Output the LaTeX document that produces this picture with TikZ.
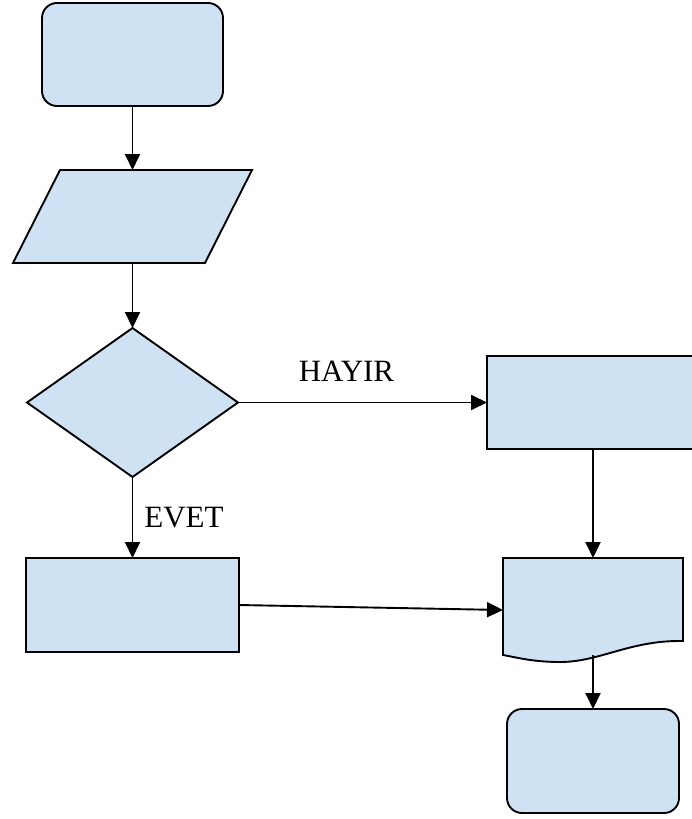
\documentclass[tikz,border=0pt]{standalone}
\usepackage{fontspec}
\setmainfont{Liberation Serif}
\usetikzlibrary{arrows.meta,shapes.geometric}
\definecolor{boxfill}{RGB}{207,226,243}
\begin{document}
\begin{tikzpicture}[x=1pt,y=-1pt,
  shapebox/.style={draw=black,fill=boxfill,line width=1.9pt,inner sep=0pt,outer sep=0pt},
  roundbox/.style={shapebox,rounded corners=15pt},
  ghost/.style={draw=none,inner sep=0pt,outer sep=0pt},
  flow/.style={line width=1.9pt,-{Triangle[length=16pt,width=15pt]}},
  lbl/.style={font=\fontsize{31}{31}\selectfont,inner sep=0pt,anchor=base}]
\clip (0,0) rectangle (692,819);
% nodes
\node[roundbox,minimum width=181pt,minimum height=103pt] (start) at (132.5,54.5) {};
\fill[boxfill,draw=black,line width=1.9pt,line join=miter] (60,170) -- (252,170) -- (205,263) -- (13,263) -- cycle;
\node[ghost,minimum width=192pt,minimum height=93pt] (input) at (132.5,216.5) {};
\node[shapebox,diamond,aspect=1.416,minimum width=211pt,minimum height=149pt] (dec) at (132.5,402.5) {};
\node[shapebox,minimum width=213pt,minimum height=94pt] (yes) at (132.5,605) {};
\node[shapebox,minimum width=212pt,minimum height=93pt] (no) at (593,402.5) {};
\fill[boxfill,draw=black,line width=1.9pt] (503,558) -- (683,558) -- (683,641)
  .. controls (630,640) and (600,662) .. (560,662)
  .. controls (532,662) and (515,657) .. (503,655) -- cycle;
\node[ghost,minimum width=180pt,minimum height=97pt] (doc) at (593,606.5) {};
\coordinate (docin) at (503,610);
\coordinate (docout) at (593,655);
\node[roundbox,minimum width=172pt,minimum height=104pt] (stop) at (593,761) {};
% connectors
\draw[flow] (start.south) -- (input.north);
\draw[flow] (input.south) -- (dec.north);
\draw[flow] (dec.south) -- (yes.north);
\draw[flow] (dec.east) -- (no.west);
\draw[flow] (no.south) -- (doc.north);
\draw[flow] (yes.east) -- (docin);
\draw[flow] (docout) -- (stop.north);
% labels
\node[lbl] (hayir) at (346.5,381) {HAYIR};
\node[lbl] (evet) at (184,527) {EVET};
\end{tikzpicture}
\end{document}
